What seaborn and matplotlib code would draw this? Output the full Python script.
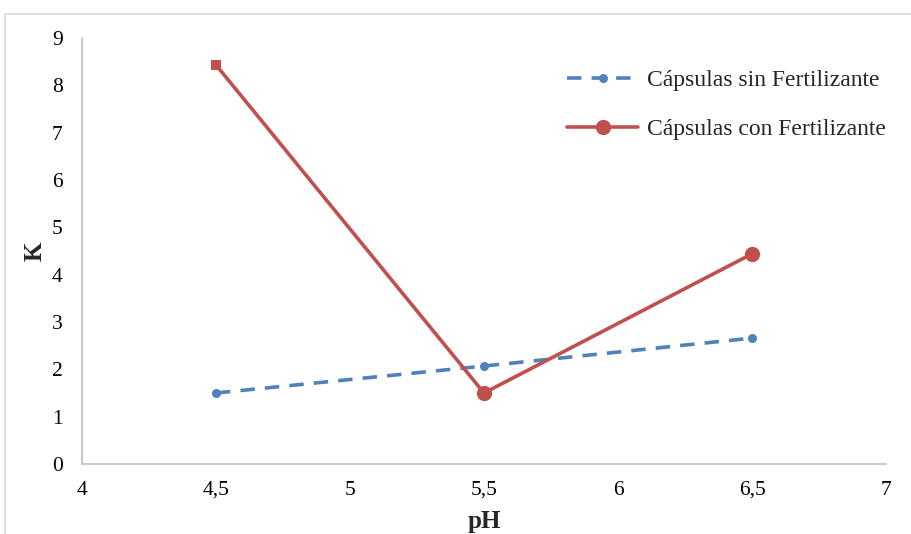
import matplotlib
matplotlib.use("Agg")
import matplotlib.pyplot as plt
import seaborn as sns
import pandas as pd
from matplotlib.lines import Line2D
from matplotlib.patches import Rectangle

ph = [4.5, 5.5, 6.5]
k_sin = [1.50, 2.07, 2.66]
k_con = [8.43, 1.50, 4.44]
series_names = ["Cápsulas sin Fertilizante", "Cápsulas con Fertilizante"]
x_ticks = [4, 4.5, 5, 5.5, 6, 6.5, 7]
x_labels = ["4", "4,5", "5", "5,5", "6", "6,5", "7"]
y_ticks = list(range(0, 10))

blue = "#4F81BD"
red = "#C0504D"

sns.set_theme(style="white")
plt.rcParams["font.family"] = ["Liberation Serif", "DejaVu Serif"]

df_sin = pd.DataFrame({"pH": ph, "K": k_sin})
df_con = pd.DataFrame({"pH": ph, "K": k_con})

fig = plt.figure(figsize=(9.11, 5.34), dpi=100)
ax = fig.add_axes([82/911, 70/534, (886-82)/911, (464-38)/534])

sns.lineplot(data=df_sin, x="pH", y="K", ax=ax, color=blue, lw=2.6,
             linestyle=(0, (4, 2.8)), marker="o", markersize=6.5,
             markeredgewidth=0, markerfacecolor=blue)
sns.lineplot(data=df_con, x="pH", y="K", ax=ax, color=red, lw=2.6,
             marker="o", markersize=11, markeredgewidth=0, markerfacecolor=red,
             markevery=[1, 2])
sns.scatterplot(x=ph[:1], y=k_con[:1], ax=ax, color=red, marker="s", s=60,
                linewidth=0, zorder=5)

ax.set_xlim(4, 7)
ax.set_ylim(0, 9)
ax.set_xticks(x_ticks)
ax.set_xticklabels(x_labels)
ax.set_yticks(y_ticks)
ax.tick_params(axis="both", labelsize=15.5, length=0, colors="black")
ax.tick_params(axis="x", pad=12)
ax.tick_params(axis="y", pad=14)
ax.set_xlabel("pH", fontsize=18, fontweight="bold")
ax.xaxis.set_label_coords(0.5, -0.107)
ax.set_ylabel("K", fontsize=18, fontweight="bold", labelpad=4)
for s in ["top", "right"]:
    ax.spines[s].set_visible(False)
for s in ["left", "bottom"]:
    ax.spines[s].set_color("#BFBFBF")
    ax.spines[s].set_linewidth(1.2)
ax.grid(False)

handles = [
    Line2D([], [], color=blue, lw=2.6, linestyle=(0, (4, 2.8)), marker="o",
           markersize=6.5, markeredgewidth=0),
    Line2D([], [], color=red, lw=2.6, marker="o", markersize=11,
           markeredgewidth=0),
]
leg = ax.legend(handles, series_names, loc="upper left",
                bbox_to_anchor=(0.592, 0.948), frameon=False, fontsize=17,
                handlelength=3.0, handletextpad=0.35, labelspacing=1.15,
                numpoints=1, borderaxespad=0)

fig.patches.append(Rectangle((5/911, -0.05), 1.0, (534-14)/534 + 0.05,
                             transform=fig.transFigure, fill=False,
                             edgecolor="#D9D9D9", lw=1.2))

fig.savefig("out.png", dpi=100)
